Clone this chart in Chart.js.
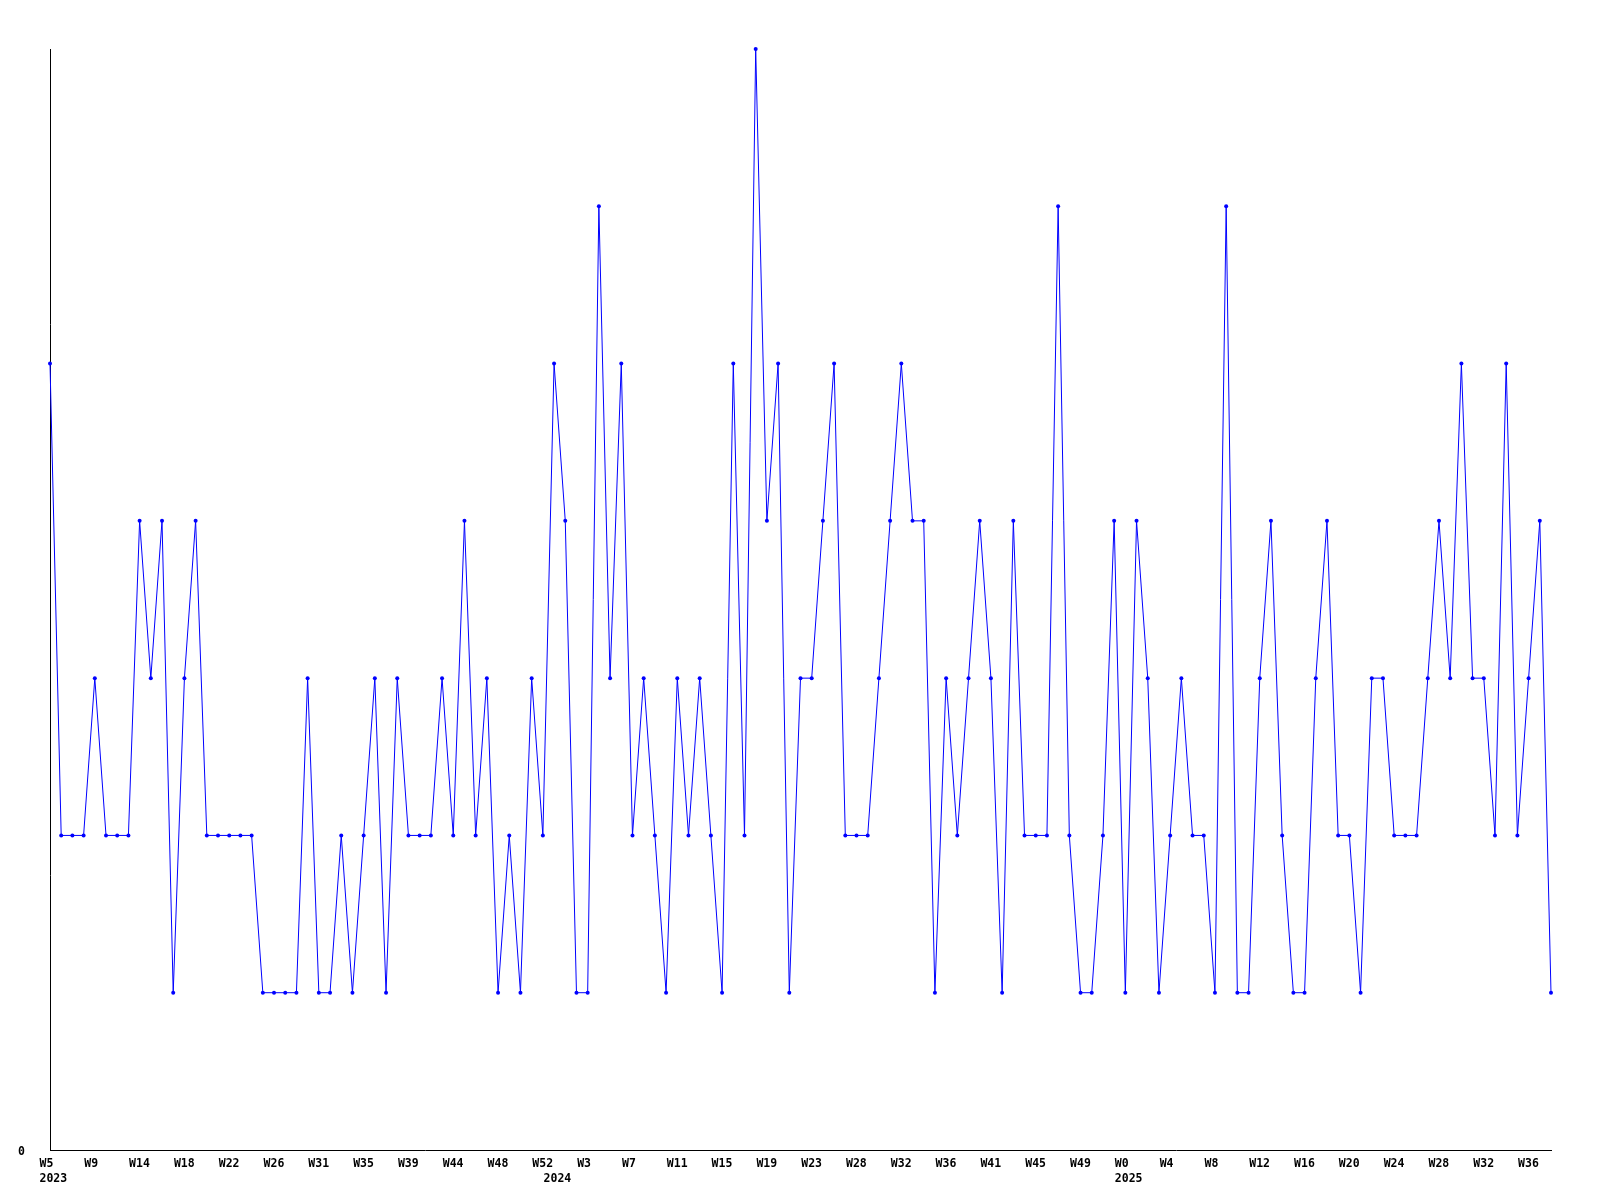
<!DOCTYPE html>
<html>
<head>
<meta charset="utf-8">
<script src="https://cdn.jsdelivr.net/npm/chart.js@4/dist/chart.umd.min.js"></script>
<style>
  html, body { margin: 0; padding: 0; background: #ffffff; }
  canvas { display: block; }
</style>
</head>
<body>
<canvas id="chart" width="1600" height="1200"></canvas>
<script>
// ---- Data ----
const categories = [
  "2023-W05","2023-W06","2023-W07","2023-W08","2023-W09","2023-W10","2023-W11","2023-W12",
  "2023-W14","2023-W15","2023-W16","2023-W17","2023-W18","2023-W19","2023-W20","2023-W21",
  "2023-W22","2023-W23","2023-W24","2023-W25","2023-W26","2023-W27","2023-W28","2023-W30",
  "2023-W31","2023-W32","2023-W33","2023-W34","2023-W35","2023-W36","2023-W37","2023-W38",
  "2023-W39","2023-W40","2023-W41","2023-W43","2023-W44","2023-W45","2023-W46","2023-W47",
  "2023-W48","2023-W49","2023-W50","2023-W51","2023-W52",
  "2024-W00","2024-W01","2024-W02","2024-W03","2024-W04","2024-W05","2024-W06","2024-W07",
  "2024-W08","2024-W09","2024-W10","2024-W11","2024-W12","2024-W13","2024-W14","2024-W15",
  "2024-W16","2024-W17","2024-W18","2024-W19","2024-W20","2024-W21","2024-W22","2024-W23",
  "2024-W24","2024-W26","2024-W27","2024-W28","2024-W29","2024-W30","2024-W31","2024-W32",
  "2024-W33","2024-W34","2024-W35","2024-W36","2024-W37","2024-W39","2024-W40","2024-W41",
  "2024-W42","2024-W43","2024-W44","2024-W45","2024-W46","2024-W47","2024-W48","2024-W49",
  "2024-W50","2024-W51","2024-W52",
  "2025-W00","2025-W01","2025-W02","2025-W03","2025-W04","2025-W05","2025-W06","2025-W07",
  "2025-W08","2025-W09","2025-W10","2025-W11","2025-W12","2025-W13","2025-W14","2025-W15",
  "2025-W16","2025-W17","2025-W18","2025-W19","2025-W20","2025-W21","2025-W22","2025-W23",
  "2025-W24","2025-W25","2025-W26","2025-W27","2025-W28","2025-W29","2025-W30","2025-W31",
  "2025-W32","2025-W33","2025-W34","2025-W35","2025-W36","2025-W37","2025-W38"
];

const values = [
  5,2,2,2,3,2,2,2,4,3,4,1,3,4,2,2,2,2,2,1,1,1,1,
  3,1,1,2,1,2,3,1,3,2,2,2,3,2,4,2,3,1,2,1,3,2,
  5,4,1,1,6,3,5,2,3,2,1,3,2,3,2,1,5,2,7,4,5,1,3,
  3,4,5,2,2,2,3,4,5,4,4,1,3,2,3,4,3,1,4,2,2,2,
  6,2,1,1,2,4,1,4,3,1,2,3,2,2,1,6,1,1,3,4,2,1,
  1,3,4,2,2,1,3,3,2,2,2,3,4,3,5,3,3,2,5,2,3,4,1
];

const yMin = 0;
const yMax = 7;
const yTickLabels = ["0"];
const xLabelEvery = 4;

// ---- Helpers for tick labels ----
function weekText(cat) { return "W" + parseInt(cat.split("-W")[1], 10); }
function yearText(cat) { return cat.split("-W")[0]; }

const axisFont = { family: "'DejaVu Sans Mono', monospace", size: 11.5, weight: "bold", lineHeight: 1.3 };

new Chart(document.getElementById("chart"), {
  type: "line",
  data: {
    labels: categories,
    datasets: [{
      data: values,
      borderColor: "#0000ff",
      backgroundColor: "#0000ff",
      borderWidth: 1,
      tension: 0,
      fill: false,
      pointRadius: 2,
      pointHoverRadius: 2,
      pointBorderWidth: 0,
      pointBackgroundColor: "#0000ff",
      clip: false
    }]
  },
  options: {
    responsive: false,
    animation: false,
    devicePixelRatio: 1,
    layout: { padding: { top: 49, right: 49, left: 0, bottom: 0 } },
    plugins: { legend: { display: false }, tooltip: { enabled: false }, title: { display: false } },
    scales: {
      x: {
        type: "category",
        offset: false,
        grid: { display: false, drawTicks: false },
        border: { display: true, color: "#000000", width: 1 },
        afterFit: (s) => { s.height = 50; },
        ticks: {
          autoSkip: false,
          maxRotation: 0,
          minRotation: 0,
          align: "start",
          labelOffset: -10.5,
          padding: 6.5,
          color: "#000000",
          font: axisFont,
          callback: function(value, index) {
            const cat = categories[index];
            const showWeek = index % xLabelEvery === 0;
            const newYear = index === 0 || yearText(categories[index - 1]) !== yearText(cat);
            if (!showWeek && !newYear) return "";
            return [showWeek ? weekText(cat) : "", newYear ? yearText(cat) : ""];
          }
        }
      },
      y: {
        min: yMin,
        max: yMax,
        grid: { display: false, drawTicks: false },
        border: { display: true, color: "#000000", width: 1 },
        afterFit: (s) => { s.width = 50; },
        ticks: {
          stepSize: 1,
          padding: 25,
          labelOffset: 2,
          color: "#000000",
          font: axisFont,
          callback: function(value) {
            const t = String(value);
            return yTickLabels.includes(t) ? t : null;
          }
        }
      }
    }
  }
});
</script>
</body>
</html>
